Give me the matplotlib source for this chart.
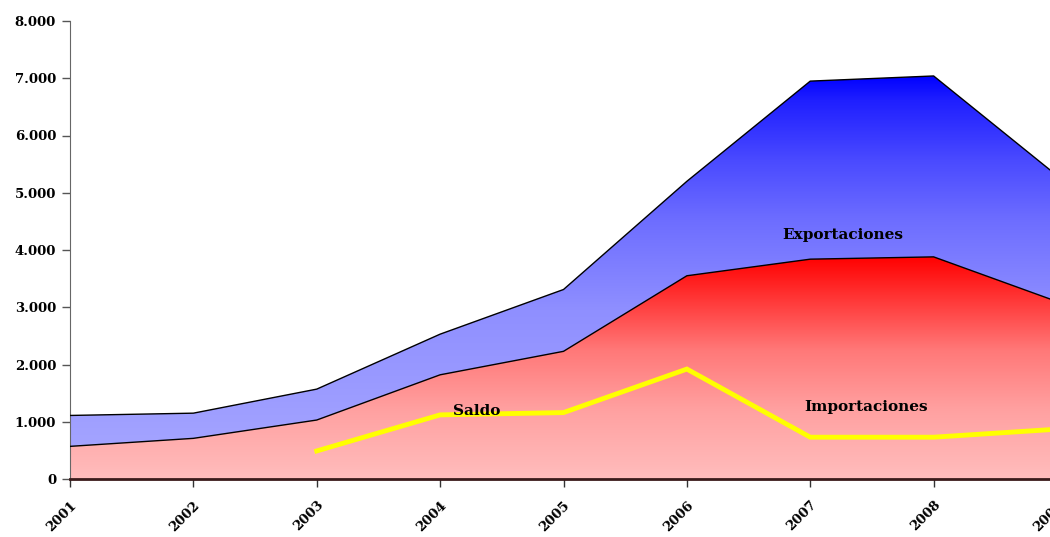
import numpy as np
import matplotlib
matplotlib.use("Agg")
from matplotlib import pyplot as plt
from matplotlib.colors import LinearSegmentedColormap
from matplotlib.ticker import FuncFormatter

years = [2001, 2002, 2003, 2004, 2005, 2006, 2007, 2008, 2009]
exportaciones = [1110, 1150, 1570, 2530, 3310, 5200, 6950, 7040, 5300]
importaciones = [570, 710, 1030, 1820, 2230, 3550, 3840, 3880, 3100]
saldo_years = [2003, 2004, 2005, 2006, 2007, 2008, 2009]
saldo = [490, 1120, 1160, 1920, 730, 730, 870]

plt.rcParams['font.family'] = ['DejaVu Serif']

fig = plt.figure(figsize=(10.5, 5.37), dpi=100)
ax = fig.add_axes([70/1050, 58/537, 987/1050, 458/537])
ax.set_xlim(2001, 2009)
ax.set_ylim(0, 8000)

def gradient_area(ytop, stops, blue):
    # stops: (fraction of max, lightness) from bottom to top
    poly = ax.fill_between(years, 0, ytop, color='none', edgecolor='none')
    top_val = max(ytop)
    cols = []
    for f, l in stops:
        cols.append((f, (l, l, 1) if blue else (1, l, l)))
    cmap = LinearSegmentedColormap.from_list('g', cols)
    grad = np.linspace(0, 1, 512).reshape(-1, 1)
    im = ax.imshow(grad, cmap=cmap, origin='lower', aspect='auto',
                   extent=[2001, 2009, 0, top_val], zorder=1)
    im.set_clip_path(poly.get_paths()[0], transform=ax.transData)
    ax.plot(years, ytop, color='black', lw=1, zorder=3)

gradient_area(exportaciones,
              [(0, 0.66), (0.13, 0.63), (0.42, 0.56), (0.64, 0.43),
               (0.79, 0.29), (0.94, 0.12), (1, 0.0)], True)
gradient_area(importaciones,
              [(0, 0.74), (0.31, 0.63), (0.58, 0.47), (0.91, 0.1), (1, 0.0)], False)

ax.plot(saldo_years, saldo, color='#ffff00', lw=3.5, zorder=4, solid_joinstyle='miter')

ax.text(2007.26, 4260, 'Exportaciones', ha='center', va='center', fontsize=11, fontweight='bold', zorder=5)
ax.text(2007.45, 1260, 'Importaciones', ha='center', va='center', fontsize=11, fontweight='bold', zorder=5)
ax.text(2004.30, 1190, 'Saldo', ha='center', va='center', fontsize=11, fontweight='bold', zorder=5)

ax.set_xticks(years)
ax.set_xticklabels([str(y) for y in years], rotation=45, ha='right', va='top',
                   fontsize=9.5, fontweight='bold', rotation_mode='anchor')
ax.set_yticks(range(0, 8001, 1000))
ax.yaxis.set_major_formatter(FuncFormatter(lambda v, p: f"{int(v):,}".replace(',', '.')))
for lab in ax.get_yticklabels():
    lab.set_fontweight('bold')
    lab.set_fontsize(9.5)
ax.tick_params(axis='x', length=6, width=1, color='#333333', pad=8)
ax.tick_params(axis='y', length=6, width=1, color='#555555', pad=4)
ax.spines['top'].set_visible(False)
ax.spines['right'].set_visible(False)
ax.spines['left'].set_color('#666666')
ax.spines['bottom'].set_color('#3a1a1a')
ax.spines['bottom'].set_linewidth(2)
ax.spines['bottom'].set_zorder(6)

fig.savefig('out.png', dpi=100)
